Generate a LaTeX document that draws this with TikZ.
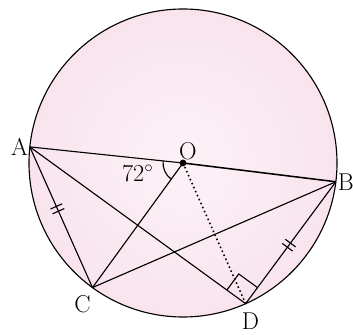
\documentclass[tikz,border=0pt]{standalone}
\usetikzlibrary{calc}

\definecolor{diskin}{RGB}{252,242,247}
\definecolor{diskmid}{RGB}{248,225,236}
\definecolor{diskout}{RGB}{240,200,222}
\pgfdeclareradialshading{pinkdisk}{\pgfpoint{0bp}{0bp}}{%
  color(0bp)=(diskin); color(30bp)=(diskmid); color(50bp)=(diskout)}

\begin{document}
\begin{tikzpicture}[line width=0.8pt, font=\LARGE]

    % ==========================================
    % Frame and points on the circle
    % ==========================================
    \useasboundingbox (-4.575,-4.3) rectangle (4.25,4.075);
    \def\rad{3.85}
    \coordinate (O) at (0,0);
    \coordinate (A) at (174:\rad);
    \coordinate (B) at (-7:\rad);
    \coordinate (C) at (234:\rad);
    \coordinate (D) at (-66:\rad);

    % Pink disc
    \shade[shading=pinkdisk] (O) circle (\rad);
    \draw (O) circle (\rad);

    % ==========================================
    % Chords and radii
    % ==========================================
    \draw (A) -- (O);
    \draw[line width=1.1pt] (O) -- (B);
    \draw (O) -- (C);
    \draw (A) -- (C);
    \draw (A) -- (D);
    \draw (C) -- (B);
    \draw (B) -- (D);
    \draw[dotted, line width=1.1pt] (O) -- (D);

    % Angle at O
    \draw (O) ++(174:0.5) arc (174:234:0.5);
    \node (ang) at (-1.13,-0.25) {$72^\circ$};

    % Right angle at D
    \coordinate (Da) at ($(D)!0.58cm!(A)$);
    \coordinate (Db) at ($(D)!0.5cm!(B)$);
    \draw (Da) -- ($(Da)+(Db)-(D)$) -- (Db);

    % Equal marks on AC and BD
    \foreach \p/\q/\t in {A/C/0.44, B/D/0.52}{
        \coordinate (m1) at ($(\p)!\t-0.017!(\q)$);
        \coordinate (m2) at ($(\p)!\t+0.017!(\q)$);
        \draw ($(m1)!0.16cm!90:(\q)$) -- ($(m1)!0.16cm!-90:(\q)$);
        \draw ($(m2)!0.16cm!90:(\q)$) -- ($(m2)!0.16cm!-90:(\q)$);
    }

    % Centre dot
    \fill (O) circle (2.4pt);

    % Labels
    \node[anchor=east, inner sep=1pt] (lA) at (A) {A};
    \node[anchor=west, inner sep=1pt] (lB) at (B) {B};
    \node (lC) at ($(C)+(-0.25,-0.42)$) {C};
    \node (lD) at ($(D)+(0.12,-0.45)$) {D};
    \node (lO) at ($(O)+(0.12,0.3)$) {O};

\end{tikzpicture}
\end{document}
